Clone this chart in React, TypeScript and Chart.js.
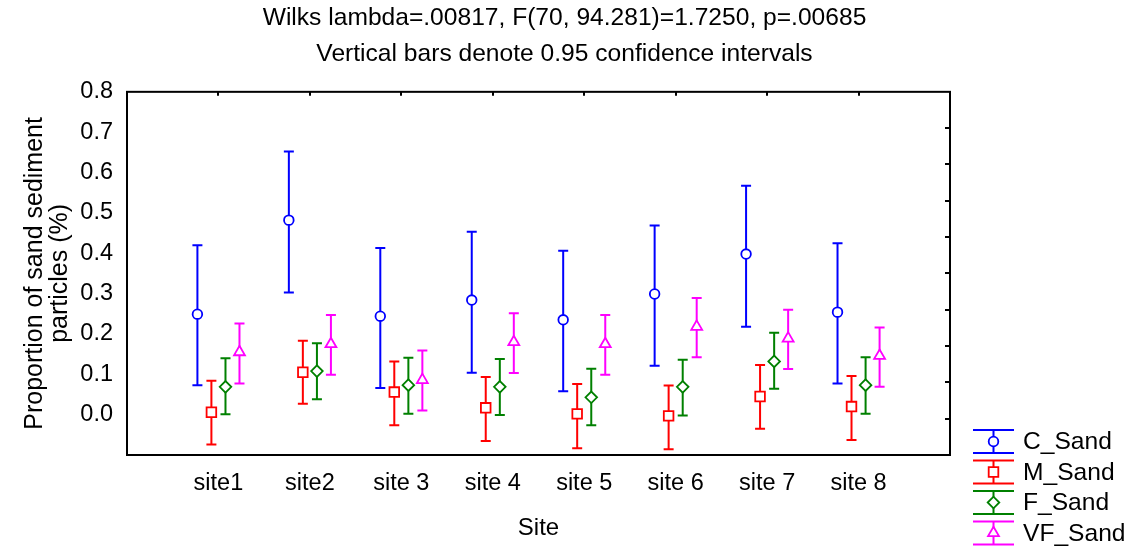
import React, { useEffect, useRef } from 'react';
import { Chart, registerables } from 'chart.js';

Chart.register(...registerables);

const FONT = "'Liberation Sans', Arial, Helvetica, sans-serif";

const titleLines = [
  'Wilks lambda=.00817, F(70, 94.281)=1.7250, p=.00685',
  'Vertical bars denote 0.95 confidence intervals',
];
const xAxisTitle = 'Site';
const yAxisTitle = ['Proportion of sand sediment', 'particles (%)'];

const sites = ['site1', 'site2', 'site 3', 'site 4', 'site 5', 'site 6', 'site 7', 'site 8'];
const yTickLabels = ['0.0', '0.1', '0.2', '0.3', '0.4', '0.5', '0.6', '0.7', '0.8'];

const seriesNames = ['C_Sand', 'M_Sand', 'F_Sand', 'VF_Sand'];

const cMean = [0.249, 0.482, 0.244, 0.284, 0.235, 0.299, 0.398, 0.254];
const cHigh = [0.420, 0.652, 0.413, 0.453, 0.406, 0.469, 0.567, 0.425];
const cLow = [0.073, 0.303, 0.066, 0.104, 0.058, 0.121, 0.218, 0.077];

const mMean = [0.006, 0.105, 0.056, 0.017, 0.002, -0.003, 0.045, 0.020];
const mHigh = [0.084, 0.183, 0.132, 0.093, 0.076, 0.072, 0.123, 0.096];
const mLow = [-0.074, 0.027, -0.026, -0.065, -0.083, -0.086, -0.035, -0.063];

const fMean = [0.069, 0.108, 0.073, 0.069, 0.043, 0.069, 0.132, 0.073];
const fHigh = [0.140, 0.177, 0.141, 0.138, 0.114, 0.136, 0.203, 0.142];
const fLow = [0.001, 0.038, 0.002, -0.001, -0.026, -0.002, 0.064, 0.002];

const vfMean = [0.155, 0.175, 0.086, 0.180, 0.175, 0.218, 0.189, 0.146];
const vfHigh = [0.226, 0.247, 0.159, 0.251, 0.247, 0.289, 0.260, 0.216];
const vfLow = [0.077, 0.099, 0.010, 0.103, 0.099, 0.142, 0.113, 0.069];

const series = [
  { name: seriesNames[0], mean: cMean, high: cHigh, low: cLow, color: '#0000FF', style: 'circle', radius: 4.8, offset: -0.23 },
  { name: seriesNames[1], mean: mMean, high: mHigh, low: mLow, color: '#FF0000', style: 'rect', radius: 6.8, offset: -0.077 },
  { name: seriesNames[2], mean: fMean, high: fHigh, low: fLow, color: '#008000', style: 'rectRot', radius: 5.8, offset: 0.077 },
  { name: seriesNames[3], mean: vfMean, high: vfHigh, low: vfLow, color: '#FF00FF', style: 'triangle', radius: 6.3, offset: 0.23 },
];

function drawMarker(ctx: CanvasRenderingContext2D, style: string, x: number, y: number, r: number) {
  ctx.beginPath();
  if (style === 'circle') {
    ctx.arc(x, y, r, 0, Math.PI * 2);
  } else if (style === 'rect') {
    const h = r * Math.SQRT1_2;
    ctx.rect(x - h, y - h, 2 * h, 2 * h);
  } else if (style === 'rectRot') {
    ctx.moveTo(x - r, y);
    ctx.lineTo(x, y - r);
    ctx.lineTo(x + r, y);
    ctx.lineTo(x, y + r);
    ctx.closePath();
  } else {
    let a = 0;
    ctx.moveTo(x + Math.sin(a) * r, y - Math.cos(a) * r);
    a += (2 * Math.PI) / 3;
    ctx.lineTo(x + Math.sin(a) * r, y - Math.cos(a) * r);
    a += (2 * Math.PI) / 3;
    ctx.lineTo(x + Math.sin(a) * r, y - Math.cos(a) * r);
    ctx.closePath();
  }
  ctx.fillStyle = '#FFFFFF';
  ctx.fill();
  ctx.stroke();
}

const errorBarPlugin = {
  id: 'errorBars',
  beforeDatasetsDraw(chart: any) {
    const { ctx } = chart;
    const x = chart.scales.x;
    const y = chart.scales.y;
    ctx.save();
    series.forEach((s) => {
      ctx.strokeStyle = s.color;
      ctx.lineWidth = 2;
      s.low.forEach((lo, j) => {
        const px = x.getPixelForValue(j + 1 + s.offset);
        const pTop = y.getPixelForValue(s.high[j]);
        const pBot = y.getPixelForValue(lo);
        ctx.beginPath();
        ctx.moveTo(px, pTop);
        ctx.lineTo(px, pBot);
        ctx.moveTo(px - 5, pTop);
        ctx.lineTo(px + 5, pTop);
        ctx.moveTo(px - 5, pBot);
        ctx.lineTo(px + 5, pBot);
        ctx.stroke();
      });
    });
    ctx.restore();
  },
};

const framePlugin = {
  id: 'frameAndLegend',
  afterDraw(chart: any) {
    const { ctx, chartArea } = chart;
    const { left, right, top, bottom } = chartArea;
    const x = chart.scales.x;
    ctx.save();
    ctx.strokeStyle = '#000';
    ctx.lineWidth = 2;
    ctx.strokeRect(left, top, right - left, bottom - top);
    ctx.beginPath();
    sites.forEach((_, i) => {
      const px = Math.round(x.getPixelForValue(i + 1));
      ctx.moveTo(px, top);
      ctx.lineTo(px, top + 4);
    });
    for (let k = 1; k < 10; k++) {
      const py = Math.round(top + (k * (bottom - top)) / 10);
      ctx.moveTo(right, py);
      ctx.lineTo(right - 5, py);
    }
    ctx.stroke();

    const n = series.length;
    const rowH = 30.5;
    const lx0 = right + 23;
    const lx1 = right + 64;
    const lxc = (lx0 + lx1) / 2;
    ctx.font = `24.6px ${FONT}`;
    ctx.textBaseline = 'middle';
    ctx.textAlign = 'left';
    series.forEach((s, i) => {
      const cy = chart.height - 16 - (n - 1 - i) * rowH;
      ctx.strokeStyle = s.color;
      ctx.lineWidth = 2;
      ctx.beginPath();
      ctx.moveTo(lx0, cy - 11.5);
      ctx.lineTo(lx1, cy - 11.5);
      ctx.moveTo(lx0, cy + 11.5);
      ctx.lineTo(lx1, cy + 11.5);
      ctx.moveTo(lxc, cy - 11.5);
      ctx.lineTo(lxc, cy + 11.5);
      ctx.stroke();
      ctx.lineWidth = 1.8;
      drawMarker(ctx, s.style, lxc, cy, s.radius);
      ctx.fillStyle = '#000';
      ctx.fillText(s.name, right + 73, cy + 1);
    });
    ctx.restore();
  },
};

export default function App() {
  const canvasRef = useRef<HTMLCanvasElement | null>(null);

  useEffect(() => {
    document.body.style.margin = '0';
    const canvas = canvasRef.current;
    if (!canvas) return;
    const chart = new Chart(canvas, {
      type: 'scatter',
      data: {
        datasets: series.map((s) => ({
          label: s.name,
          data: s.mean.map((m, j) => ({ x: j + 1 + s.offset, y: m })),
          pointStyle: s.style as any,
          pointRadius: s.radius,
          pointBorderWidth: 1.8,
          borderColor: s.color,
          backgroundColor: '#FFFFFF',
          pointBackgroundColor: '#FFFFFF',
          pointBorderColor: s.color,
          showLine: false,
        })),
      },
      options: {
        animation: false,
        responsive: false,
        devicePixelRatio: 1,
        events: [],
        layout: { padding: 0 },
        plugins: {
          legend: { display: false },
          tooltip: { enabled: false },
          title: {
            display: true,
            text: titleLines,
            color: '#000',
            font: { family: FONT, size: 24.6, weight: 'normal', lineHeight: 1.46 },
            padding: { top: 0, bottom: 20 },
          },
        },
        scales: {
          x: {
            type: 'linear',
            min: 0,
            max: 9,
            grid: { display: false, drawTicks: false },
            border: { display: false },
            afterBuildTicks: (scale: any) => {
              scale.ticks = sites.map((_, i) => ({ value: i + 1 }));
            },
            afterFit: (scale: any) => {
              scale.height = 94;
            },
            ticks: {
              callback: (v: any) => sites[Math.round(Number(v)) - 1] ?? '',
              color: '#000',
              font: { family: FONT, size: 23.5 },
              padding: 14,
              maxRotation: 0,
              autoSkip: false,
            },
            title: {
              display: true,
              text: xAxisTitle,
              color: '#000',
              font: { family: FONT, size: 24 },
              padding: { top: 14, bottom: 6 },
            },
          },
          y: {
            type: 'linear',
            min: -0.1,
            max: 0.8,
            grid: { display: false, drawTicks: false },
            border: { display: false },
            afterBuildTicks: (scale: any) => {
              scale.ticks = yTickLabels.map((t) => ({ value: parseFloat(t) }));
            },
            afterFit: (scale: any) => {
              scale.width = 127;
            },
            ticks: {
              callback: (_v: any, i: number) => yTickLabels[i],
              color: '#000',
              font: { family: FONT, size: 23.5 },
              padding: 14,
            },
            title: {
              display: true,
              text: yAxisTitle,
              color: '#000',
              font: { family: FONT, size: 25, lineHeight: 1.0 },
              padding: { top: 23, bottom: 8 },
            },
          },
          legendSpace: {
            type: 'linear',
            position: 'right',
            display: true,
            min: 0,
            max: 1,
            grid: { display: false, drawTicks: false },
            border: { display: false },
            ticks: { display: false },
            afterFit: (scale: any) => {
              scale.width = 179;
            },
          },
        },
      },
      plugins: [errorBarPlugin, framePlugin],
    });
    return () => chart.destroy();
  }, []);

  return (
    <div style={{ width: 1129, height: 549 }}>
      <canvas ref={canvasRef} width={1129} height={549} />
    </div>
  );
}
